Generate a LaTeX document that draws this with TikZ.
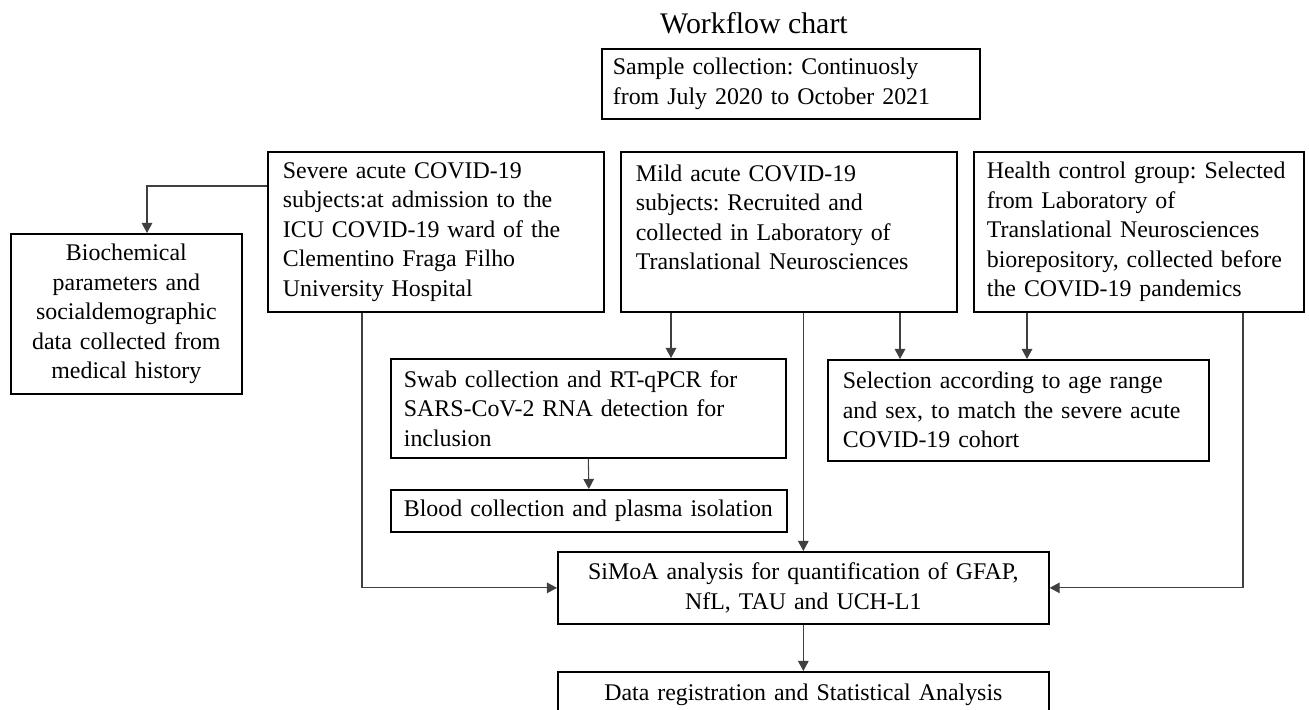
\documentclass[tikz,border=0pt]{standalone}
\usepackage{fontspec}
\setmainfont{Liberation Serif}
\usetikzlibrary{arrows.meta}

\tikzset{
  stage/.style={draw, line width=1pt, anchor=north west, inner xsep=0.3cm, inner ysep=0pt,
    align=left, font=\fontsize{13.6}{16.8}\selectfont\frenchspacing},
  stagemid/.style={stage, align=center},
  flow/.style={draw=black!75, line width=0.6pt, -{Triangle[length=5.7pt,width=6pt]}}
}

\begin{document}
\frenchspacing
\begin{tikzpicture}[x=0.02cm, y=-0.02cm]
  \clip (0,0) rectangle (1309,710);

  \node[font=\fontsize{17}{20}\selectfont, anchor=base] (title) at (754,33) {Workflow chart};

  % boxes
  \node[stage, inner xsep=0.22cm, text width=7.12cm, minimum height=1.4cm] (sample) at (601,48)
    {Sample collection: Continuosly\\from July 2020 to October 2021};

  \node[stage, text width=6.12cm, minimum height=3.2cm] (severe) at (267,151)
    {Severe acute COVID-19\\subjects:at admission to the\\ICU COVID-19 ward of the\\Clementino Fraga Filho\\University Hospital};
  \node[stage, text width=6.12cm, minimum height=3.2cm] (mild) at (620,151)
    {Mild acute COVID-19\\subjects: Recruited and\\collected in Laboratory of\\Translational Neurosciences\\\mbox{}};
  \node[stage, inner xsep=0.26cm, text width=6.08cm, minimum height=3.2cm] (health) at (973,151)
    {Health control group: Selected\\from Laboratory of\\Translational Neurosciences\\biorepository, collected before\\the COVID-19 pandemics};

  \node[stagemid, text width=4.02cm, minimum height=3.2cm] (biochem) at (10,233)
    {Biochemical\\parameters and\\socialdemographic\\data collected from\\medical history};

  \node[stage, inner xsep=0.26cm, text width=7.38cm, minimum height=1.98cm] (swab) at (390,358)
    {Swab collection and RT-qPCR for\\SARS-CoV-2 RNA detection for\\inclusion};
  \node[stage, text width=7.02cm, minimum height=2.02cm] (selection) at (827,359)
    {Selection according to age range\\and sex, to match the severe acute\\COVID-19 cohort};
  \node[stage, inner xsep=0.26cm, text width=7.4cm, minimum height=0.84cm] (blood) at (390,489)
    {Blood collection and plasma isolation};

  \node[stagemid, text width=9.22cm, minimum height=1.44cm] (simoa) at (557,551)
    {SiMoA analysis for quantification of GFAP,\\NfL, TAU and UCH-L1};
  \node[stagemid, text width=9.22cm, minimum height=0.92cm] (data) at (557,671)
    {Data registration and Statistical Analysis};

  % columns and rows of the connectors
  \coordinate (xbio) at (147,0);
  \coordinate (xsev) at (362,0);
  \coordinate (xswab) at (671,0);
  \coordinate (xsel1) at (900,0);
  \coordinate (xsel2) at (1027,0);
  \coordinate (xhea) at (1243,0);
  \coordinate (ysev) at (0,186);

  % connectors
  \draw[flow] (severe.west |- ysev) -| (biochem.north -| xbio);
  \draw[flow] (severe.south -| xsev) |- (simoa.west);
  \draw[flow] (mild.south -| xswab) -- (swab.north -| xswab);
  \draw[flow] (mild.south -| simoa.north) -- (simoa.north);
  \draw[flow] (mild.south -| xsel1) -- (selection.north -| xsel1);
  \draw[flow] (health.south -| xsel2) -- (selection.north -| xsel2);
  \draw[flow] (health.south -| xhea) |- (simoa.east);
  \draw[flow] (swab.south) -- (blood.north);
  \draw[flow] (simoa.south) -- (data.north);
\end{tikzpicture}
\end{document}
